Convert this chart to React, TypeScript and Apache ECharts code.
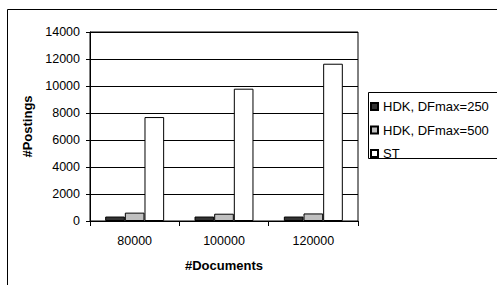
import React, { useEffect, useRef } from "react";
import * as echarts from "echarts";

const categories = ["80000", "100000", "120000"];
const seriesNames = ["HDK, DFmax=250", "HDK, DFmax=500", "ST"];
const hdk250 = [330, 330, 330];
const hdk500 = [620, 540, 560];
const st = [7700, 9800, 11650];
const yTicks = { min: 0, max: 14000, interval: 2000 };

const FONT = 'Arial, "Liberation Sans", sans-serif';

export default function App() {
  const ref = useRef<HTMLDivElement>(null);
  useEffect(() => {
    if (!ref.current) return;
    const chart = echarts.init(ref.current, null, { renderer: "svg" });
    const colors = ["#333333", "#c0c0c0", "#ffffff"];
    const data = [hdk250, hdk500, st];
    chart.setOption({
      animation: false,
      backgroundColor: "#ffffff",
      textStyle: { fontFamily: FONT },
      grid: {
        left: 90,
        top: 32,
        width: 268,
        height: 189,
        show: true,
        borderColor: "#000",
        borderWidth: 1,
        backgroundColor: "#ffffff",
      },
      xAxis: {
        type: "category",
        data: categories,
        axisLine: { lineStyle: { color: "#000", width: 1 } },
        axisTick: { show: true, length: 5, lineStyle: { color: "#000" } },
        axisLabel: { color: "#000", fontSize: 12.5, fontFamily: FONT, margin: 13 },
        name: "#Documents",
        nameLocation: "middle",
        nameGap: 38,
        nameTextStyle: { color: "#000", fontSize: 13, fontWeight: "bold", fontFamily: FONT },
      },
      yAxis: {
        type: "value",
        min: yTicks.min,
        max: yTicks.max,
        interval: yTicks.interval,
        axisLine: { show: true, lineStyle: { color: "#000", width: 1 } },
        axisTick: { show: true, length: 4, lineStyle: { color: "#000" } },
        axisLabel: {
          color: "#000",
          fontSize: 12.5,
          fontFamily: FONT,
          margin: 10,
          formatter: (v: number) => String(v),
        },
        splitLine: { show: true, lineStyle: { color: "#000", width: 1 } },
        name: "#Postings",
        nameLocation: "middle",
        nameGap: 53,
        nameTextStyle: { color: "#000", fontSize: 13, fontWeight: "bold", fontFamily: FONT },
      },
      legend: {
        orient: "vertical",
        left: 370,
        top: 100,
        padding: 0,
        itemWidth: 7,
        itemHeight: 7,
        itemGap: 10.5,
        icon: "rect",
        textStyle: { color: "#000", fontSize: 13, fontFamily: FONT, lineHeight: 12 },
        data: seriesNames,
      },
      graphic: [
        {
          type: "rect",
          shape: { x: 7.5, y: 9.5, width: 700, height: 400 },
          style: { fill: "none", stroke: "#000", lineWidth: 1 },
          silent: true,
        },
        {
          type: "rect",
          shape: { x: 368.5, y: 92.5, width: 200, height: 66 },
          style: { fill: "none", stroke: "#000", lineWidth: 1 },
          silent: true,
        },
      ],
      series: seriesNames.map((name, i) => ({
        name,
        type: "bar",
        data: data[i],
        barGap: "0%",
        barCategoryGap: "34%",
        itemStyle: { color: colors[i], borderColor: "#000", borderWidth: 1 },
      })),
    });
    return () => chart.dispose();
  }, []);
  return (
    <div
      ref={ref}
      style={{ position: "absolute", left: 0, top: 0, width: 497, height: 285 }}
    />
  );
}
